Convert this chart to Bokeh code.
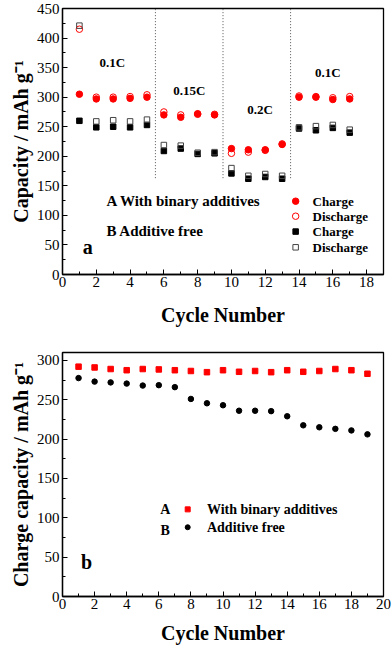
from bokeh.plotting import figure
from bokeh.layouts import column
from bokeh.models import Range1d, SingleIntervalTicker
from bokeh.core.properties import value
from bokeh.embed import file_html
from bokeh.resources import INLINE

FONT = "Liberation Serif"

# ---- Panel a data ----
cycles_a = [1, 2, 3, 4, 5, 6, 7, 8, 9, 10, 11, 12, 13, 14, 15, 16, 17]
A_charge = [305, 297, 297, 298, 300, 270, 266, 272, 270, 213, 211, 211, 220, 300, 300, 296, 297]
A_discharge = [415, 300, 300, 301, 304, 275, 270, 271, 271, 205, 207, 210, 221, 302, 301, 299, 301]
B_charge = [260, 249, 250, 249, 253, 209, 213, 204, 205, 171, 162, 165, 162, 247, 244, 248, 240]
B_discharge = [421, 259, 261, 259, 262, 219, 218, 206, 207, 180, 167, 170, 167, 249, 251, 253, 245]
rate_boundaries = [5.5, 9.5, 13.5]
rate_labels = ["0.1C", "0.15C", "0.2C", "0.1C"]

# ---- Panel b data ----
cycles_b = list(range(1, 20))
b_with_additives = [292, 291, 289, 287.5, 289, 288.5, 287.5, 286.5, 285, 287.5, 285.5, 286.5, 285, 287.5, 285.5, 286.5, 289, 287.5, 283]
b_additive_free = [277.5, 273, 272, 270.5, 268, 268.5, 266, 251, 245.5, 243, 236, 236, 235.5, 229, 217.5, 215, 213, 211, 206]


def style(p, xlabel, ylabel):
    p.outline_line_color = "black"
    p.outline_line_width = 1.3
    p.xgrid.visible = False
    p.ygrid.visible = False
    p.background_fill_color = "white"
    p.border_fill_color = "white"
    for ax in (p.xaxis[0], p.yaxis[0]):
        ax.axis_line_color = "black"
        ax.axis_line_width = 1.3
        ax.major_tick_in = 5
        ax.major_tick_out = 0
        ax.minor_tick_in = 3
        ax.minor_tick_out = 0
        ax.major_label_text_font = FONT
        ax.major_label_text_font_size = "15px"
        ax.major_label_text_color = "black"
        ax.axis_label_text_font = FONT
        ax.axis_label_text_font_style = "bold"
        ax.axis_label_text_font_size = "20px"
        ax.axis_label_text_color = "black"
    p.xaxis.axis_label = xlabel
    p.yaxis.axis_label = ylabel
    p.xaxis.major_label_standoff = 2
    p.yaxis.major_label_standoff = 3
    p.yaxis.axis_label_standoff = 2
    p.xaxis.axis_label_standoff = 14


# ---------------- Panel a ----------------
p1 = figure(width=392, height=330, output_backend="svg", toolbar_location=None,
            x_range=Range1d(0, 19), y_range=Range1d(0, 450),
            min_border_left=59, min_border_right=5, min_border_top=8, min_border_bottom=56)
style(p1, "Cycle Number", "Capacity / mAh g\u207b\u00b9")
p1.xaxis.ticker = SingleIntervalTicker(interval=2, num_minor_ticks=2)
p1.yaxis.ticker = SingleIntervalTicker(interval=50, num_minor_ticks=2)

p1.segment(x0=rate_boundaries, x1=rate_boundaries, y0=[163] * 3, y1=[450] * 3,
           line_color="#555555", line_dash="1 2", line_width=1)

p1.scatter(cycles_a, A_charge, marker="circle", size=6.5, fill_color="red", line_color="red")
p1.scatter(cycles_a, A_discharge, marker="circle", size=6.5, fill_color=None, line_color="red", line_width=1)
p1.scatter(cycles_a, B_charge, marker="square", size=5.5, fill_color="black", line_color="black")
p1.scatter(cycles_a, B_discharge, marker="square", size=5.5, fill_color=None, line_color="#444444", line_width=1)

lab_x = [2.95, 7.5, 11.7, 15.7]
lab_y = [359, 311, 279, 342]
p1.text(lab_x, lab_y, text=rate_labels, text_font=value(FONT), text_font_style="bold",
        text_font_size="13px", text_align="center", text_baseline="middle", text_color="black")

p1.text([2.6, 2.6], [125, 73], text=["A With binary additives", "B Additive free"],
        text_font=value(FONT), text_font_style="bold", text_font_size="15px",
        text_align="left", text_baseline="middle", text_color="black")
p1.text([1.5], [46], text=["a"], text_font=value(FONT), text_font_style="bold",
        text_font_size="20px", text_align="center", text_baseline="middle", text_color="black")

# legend (manual)
leg_y = [124, 98.6, 72.6, 46]
p1.scatter([13.8], [leg_y[0]], marker="circle", size=6.5, fill_color="red", line_color="red")
p1.scatter([13.8], [leg_y[1]], marker="circle", size=6.5, fill_color=None, line_color="red")
p1.scatter([13.8], [leg_y[2]], marker="square", size=5.5, fill_color="black", line_color="black")
p1.scatter([13.8], [leg_y[3]], marker="square", size=5.5, fill_color=None, line_color="#444444")
p1.text([14.8] * 4, leg_y, text=["Charge", "Discharge", "Charge", "Discharge"],
        text_font=value(FONT), text_font_style="bold", text_font_size="13px",
        text_align="left", text_baseline="middle", text_color="black")

# ---------------- Panel b ----------------
p2 = figure(width=392, height=316, output_backend="svg", toolbar_location=None,
            x_range=Range1d(0, 20), y_range=Range1d(0, 310),
            min_border_left=62, min_border_right=9, min_border_top=22, min_border_bottom=49)
style(p2, "Cycle Number", "Charge capacity / mAh g\u207b\u00b9")
p2.xaxis.ticker = SingleIntervalTicker(interval=2, num_minor_ticks=2)
p2.yaxis.ticker = SingleIntervalTicker(interval=50, num_minor_ticks=2)
p2.xaxis.axis_label_standoff = 10

p2.scatter(cycles_b, b_with_additives, marker="square", size=5.5, fill_color="red", line_color="red")
p2.scatter(cycles_b, b_additive_free, marker="circle", size=5.5, fill_color="black", line_color="black")

p2.text([6.4, 6.4], [110.7, 84], text=["A", "B"], text_font=value(FONT), text_font_style="bold",
        text_font_size="14px", text_align="center", text_baseline="middle", text_color="black")
p2.scatter([7.8], [110.7], marker="square", size=5, fill_color="red", line_color="red")
p2.scatter([7.8], [88], marker="circle", size=5, fill_color="black", line_color="black")
p2.text([9.0, 9.0], [110.7, 88], text=["With binary additives", "Additive free"],
        text_font=value(FONT), text_font_style="bold", text_font_size="14px",
        text_align="left", text_baseline="middle", text_color="black")
p2.text([1.5], [44], text=["b"], text_font=value(FONT), text_font_style="bold",
        text_font_size="20px", text_align="center", text_baseline="middle", text_color="black")

layout = column(p1, p2, spacing=0)
open("out.html", "w").write(file_html(layout, INLINE))
